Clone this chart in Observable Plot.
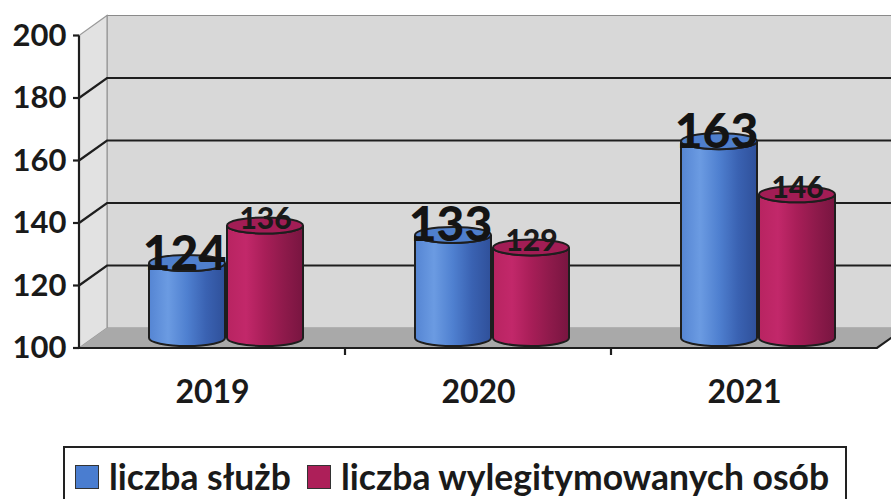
<!DOCTYPE html>
<html><head><meta charset="utf-8">
<script src="https://cdn.jsdelivr.net/npm/d3@7"></script>
<script src="https://cdn.jsdelivr.net/npm/@observablehq/plot@0.6"></script>
<style>
body{margin:0;background:#fff;font-family:Lato,sans-serif;}
#wrap{position:relative;width:891px;height:499px;overflow:hidden;background:#fff;}
#chart svg{display:block;}
#legend{position:absolute;left:63px;top:446px;width:784px;height:80px;border:2px solid #222;box-sizing:border-box;}
.item{position:absolute;top:10px;display:flex;align-items:center;font-weight:bold;font-size:35.5px;color:#1a1a1a;white-space:nowrap;line-height:38px;}
.sw{width:24px;height:24px;border:1.5px solid #333;margin-right:10px;box-sizing:border-box;}
</style></head>
<body><div id="wrap"><div id="chart"></div><div id="legend"></div></div>
<script>
const years = ["2019", "2020", "2021"];
const seriesNames = ["liczba służb", "liczba wylegitymowanych osób"];
const sluzby = [124, 133, 163];
const osoby = [136, 129, 146];
const yTicks = [100, 120, 140, 160, 180, 200];
const gridTicks = [120, 140, 160, 180];
const seriesColors = ["#4a7dd0", "#ad1f59"];

const rows = years.flatMap((year, i) => [
  {year, series: 0, value: sluzby[i]},
  {year, series: 1, value: osoby[i]}
]);

const DX = 28, DY = -20;   // depth of the 3D box
const HALF = 39, RX = 38, RY = 8;

function bandInfo(scales, dims) {
  const x = scales.x;
  const bw = typeof x.bandwidth === "function" ? x.bandwidth() : (dims.width - dims.marginLeft - dims.marginRight) / years.length;
  return {x, bw};
}

// walls, floor, gridlines
function frame(index, scales, values, dims) {
  const {x, bw} = bandInfo(scales, dims);
  const y = scales.y;
  const x0 = x(years[0]), x1 = x(years[years.length - 1]) + bw;
  const yb = y(100), yt = y(200);
  const g = d3.create("svg:g");
  g.append("path").attr("d", `M${x0+DX},${yt+DY}L${x1+DX+40},${yt+DY}L${x1+DX+40},${yb+DY}L${x0+DX},${yb+DY}Z`)
    .attr("fill", "#d8d8d8").attr("stroke", "#8a8a8a").attr("stroke-width", 1.2);
  g.append("path").attr("d", `M${x0},${yb}L${x0},${yt}L${x0+DX},${yt+DY}L${x0+DX},${yb+DY}Z`)
    .attr("fill", "#e2e2e2").attr("stroke", "#9a9a9a").attr("stroke-width", 1.2);
  g.append("path").attr("d", `M${x0},${yb}L${x1},${yb}L${x1+DX},${yb+DY}L${x0+DX},${yb+DY}Z`)
    .attr("fill", "#a9a9a9");
  for (const t of gridTicks) {
    const yy = y(t);
    g.append("path").attr("d", `M${x0},${yy}L${x0+DX},${yy+DY}L${x1+DX+40},${yy+DY}`)
      .attr("fill", "none").attr("stroke", "#1e1e1e").attr("stroke-width", 2.2);
  }
  g.append("path").attr("d", `M${x0},${yb}L${x1},${yb}L${x1+DX},${yb+DY}`)
    .attr("fill", "none").attr("stroke", "#1e1e1e").attr("stroke-width", 2.2);
  return g.node();
}

function cylinders(index, scales, values, dims) {
  const {x, bw} = bandInfo(scales, dims);
  const y = scales.y;
  const g = d3.create("svg:g");
  const defs = g.append("defs");
  const grads = [
    ["gblue", ["#5585d3", "#6b9be2", "#4f80d0", "#3a62b2", "#2f509a"]],
    ["gred", ["#b82461", "#c2286a", "#a81e58", "#8e1a4b", "#781540"]]
  ];
  for (const [id, stops] of grads) {
    const lg = defs.append("linearGradient").attr("id", id).attr("x1", 0).attr("x2", 1).attr("y1", 0).attr("y2", 0);
    stops.forEach((c, i) => lg.append("stop").attr("offset", i / (stops.length - 1)).attr("stop-color", c));
  }
  const topFill = ["#4f7fcc", "#a21d55"];
  for (const r of rows) {
    const cx = x(r.year) + bw / 2 + DX / 2 + (r.series === 0 ? -HALF : HALF);
    const yb = y(100) + DY / 2, yt = y(r.value) + DY / 2;
    const gid = r.series === 0 ? "gblue" : "gred";
    g.append("path")
      .attr("d", `M${cx-RX},${yt}L${cx-RX},${yb}A${RX},${RY} 0 0 0 ${cx+RX},${yb}L${cx+RX},${yt}A${RX},${RY} 0 0 1 ${cx-RX},${yt}Z`)
      .attr("fill", `url(#${gid})`).attr("stroke", "#1e1e1e").attr("stroke-width", 2);
    g.append("ellipse").attr("cx", cx).attr("cy", yt).attr("rx", RX).attr("ry", RY)
      .attr("fill", topFill[r.series]).attr("stroke", "#1e1e1e").attr("stroke-width", 2);
  }
  return g.node();
}

function axes(index, scales, values, dims) {
  const {x, bw} = bandInfo(scales, dims);
  const y = scales.y;
  const x0 = x(years[0]);
  const g = d3.create("svg:g").attr("stroke", "#1e1e1e").attr("stroke-width", 2.2);
  g.append("line").attr("x1", x0).attr("x2", x0).attr("y1", y(200)).attr("y2", y(100));
  for (const t of yTicks) g.append("line").attr("x1", x0 - 6).attr("x2", x0).attr("y1", y(t)).attr("y2", y(t));
  for (let i = 1; i < years.length; i++) {
    const xx = x(years[i]);
    g.append("line").attr("x1", xx).attr("x2", xx).attr("y1", y(100)).attr("y2", y(100) + 7);
  }
  return g.node();
}

const textStyle = {fill: "#1a1a1a", fontWeight: "bold"};

const chart = Plot.plot({
  width: 891, height: 440,
  marginLeft: 78, marginRight: 13, marginTop: 35, marginBottom: 92,
  x: {type: "band", domain: years, range: [78, 878], padding: 0, axis: null},
  y: {domain: [100, 200], range: [348, 35.5], axis: null},
  style: {background: "transparent", fontFamily: "Lato, sans-serif", overflow: "visible"},
  marks: [
    frame,
    cylinders,
    Plot.text(rows.filter(d => d.series === 0), {x: "year", y: "value", text: d => String(d.value),
      dx: DX / 2 - HALF - 3, dy: DY / 2 + 6, lineAnchor: "bottom", fontSize: 48, fill: "#141414", fontWeight: 900}),
    Plot.text(rows.filter(d => d.series === 1), {x: "year", y: "value", text: d => String(d.value),
      dx: DX / 2 + HALF, dy: DY / 2 + 3, lineAnchor: "bottom", fontSize: 30, fill: "#1a1a1a", fontWeight: 900}),
    axes,
    Plot.text(yTicks, {y: d => d, text: d => String(d), frameAnchor: "left", dx: -12, textAnchor: "end",
      lineAnchor: "middle", fontSize: 31, ...textStyle}),
    Plot.text(years, {x: d => d, y: () => 100, text: d => d, dy: 54, lineAnchor: "bottom", fontSize: 32, ...textStyle})
  ]
});
document.getElementById("chart").append(chart);

const legend = document.getElementById("legend");
const lefts = [10, 242];
seriesNames.forEach((name, i) => {
  const it = document.createElement("div");
  it.className = "item";
  it.style.left = lefts[i] + "px";
  const sw = document.createElement("div");
  sw.className = "sw";
  sw.style.background = seriesColors[i];
  it.append(sw, document.createTextNode(name));
  legend.append(it);
});
</script>
</body></html>
